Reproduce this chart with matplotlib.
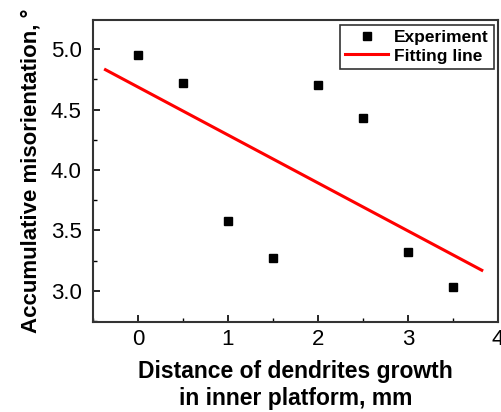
import matplotlib
matplotlib.use("Agg")
import matplotlib.pyplot as plt
from matplotlib.ticker import MultipleLocator

plt.rcParams['font.family'] = ['Liberation Sans', 'DejaVu Sans']

# Data
distance = [0, 0.5, 1.0, 1.5, 2.0, 2.5, 3.0, 3.5]
misorientation = [4.95, 4.72, 3.58, 3.27, 4.70, 4.43, 3.32, 3.03]
fit_x = [-0.36, 3.82]
fit_y = [4.83, 3.17]

fig = plt.figure(figsize=(5.02, 4.12), dpi=100)
ax = fig.add_axes([0.185, 0.218, 0.807, 0.733])

ax.plot(distance, misorientation, 's', color='black', markersize=6, label='Experiment', zorder=3)
ax.plot(fit_x, fit_y, '-', color='#ff0000', linewidth=2.2, label='Fitting line')

ax.set_xlim(-0.5, 4.0)
ax.set_ylim(2.74, 5.24)
ax.xaxis.set_major_locator(MultipleLocator(1))
ax.xaxis.set_minor_locator(MultipleLocator(0.5))
ax.yaxis.set_major_locator(MultipleLocator(0.5))
ax.yaxis.set_minor_locator(MultipleLocator(0.25))
ax.yaxis.set_major_formatter(matplotlib.ticker.FormatStrFormatter('%.1f'))
ax.tick_params(which='both', direction='in', labelsize=16)
ax.tick_params(which='major', length=5, width=1.2)
ax.tick_params(axis='y', which='major', pad=8)
ax.tick_params(axis='x', which='major', pad=5)
ax.tick_params(which='minor', length=3, width=1.0)
for s in ax.spines.values():
    s.set_linewidth(1.5)
    s.set_color('#333333')

ax.set_xlabel('Distance of dendrites growth\nin inner platform, mm', fontsize=16.5, fontweight='bold',
              labelpad=7, linespacing=1.25)
ax.set_ylabel('Accumulative misorientation, °', fontsize=16, fontweight='bold', labelpad=7)

leg = ax.legend(loc='upper right', fontsize=12.5, frameon=True, fancybox=False,
                edgecolor='black', borderpad=0.3, handlelength=2.5,
                handletextpad=0.3, labelspacing=0.2, borderaxespad=0.25)
leg.get_frame().set_linewidth(1.2)
for t in leg.get_texts():
    t.set_fontweight('bold')

fig.savefig('out.png', dpi=100)
